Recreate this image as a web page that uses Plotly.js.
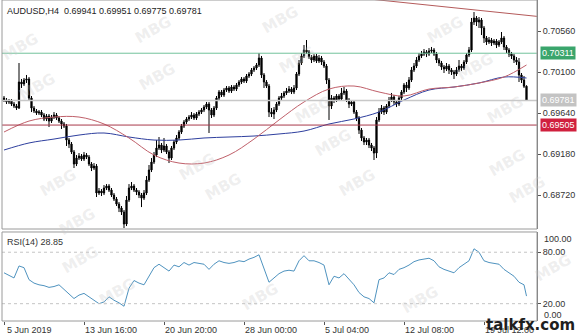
<!DOCTYPE html>
<html><head><meta charset="utf-8">
<script src="https://cdn.plot.ly/plotly-3.0.1.min.js"></script>
<style>html,body{margin:0;padding:0;background:#fff;}#chart{width:580px;height:336px;}</style>
</head><body><div id="chart"></div>
<script>
// ---- data (AUDUSD H4) ----
const close = [0.69786,0.69764,0.69775,0.69741,0.69719,0.69696,0.69988,0.69966,0.70010,0.70022,
0.69808,0.69696,0.69663,0.69640,0.69651,0.69618,0.69573,0.69606,0.69550,0.69595,
0.69618,0.69584,0.69550,0.69517,0.69494,0.69337,0.69292,0.69203,0.69068,0.69135,
0.69158,0.69124,0.69169,0.69146,0.69068,0.69023,0.69045,0.68743,0.68765,0.68743,
0.68799,0.68821,0.68776,0.68720,0.68675,0.68619,0.68574,0.68529,0.68395,0.68664,
0.68799,0.68821,0.68776,0.68754,0.68720,0.68686,0.68743,0.68888,0.69001,0.69090,
0.69169,0.69247,0.69281,0.69225,0.69270,0.69203,0.69135,0.69247,0.69315,0.69360,
0.69427,0.69494,0.69539,0.69573,0.69595,0.69618,0.69584,0.69629,0.69651,0.69674,
0.69707,0.69741,0.69674,0.69618,0.69696,0.69808,0.69876,0.69842,0.69898,0.69921,
0.69887,0.69932,0.69909,0.69954,0.69988,0.70022,0.69999,0.70055,0.70078,0.70123,
0.70145,0.70179,0.70257,0.70067,0.69988,0.69943,0.69651,0.69629,0.69674,0.69741,
0.69808,0.69831,0.69865,0.69887,0.69909,0.69876,0.69921,0.70078,0.70201,0.70280,
0.70347,0.70325,0.70268,0.70235,0.70280,0.70224,0.70257,0.70212,0.70167,0.70010,
0.69719,0.69808,0.69786,0.69831,0.69797,0.69865,0.69887,0.69786,0.69741,0.69764,
0.69651,0.69584,0.69449,0.69360,0.69315,0.69337,0.69281,0.69247,0.69191,0.69562,
0.69651,0.69696,0.69651,0.69719,0.69786,0.69820,0.69764,0.69741,0.69808,0.69876,
0.69954,0.69921,0.70010,0.70123,0.70167,0.70235,0.70280,0.70302,0.70325,0.70302,
0.70336,0.70347,0.70302,0.70235,0.70201,0.70156,0.70134,0.70167,0.70123,0.70100,
0.70078,0.70123,0.70167,0.70145,0.70212,0.70291,0.70347,0.70661,0.70706,0.70661,
0.70684,0.70594,0.70482,0.70437,0.70459,0.70426,0.70448,0.70403,0.70437,0.70482,
0.70381,0.70347,0.70302,0.70280,0.70235,0.70212,0.70067,0.70010,0.69941,0.69781];

const open = [0.69808,0.69786,0.69764,0.69775,0.69741,0.69719,0.69696,0.69988,0.69966,0.70010,
0.70022,0.69808,0.69696,0.69663,0.69640,0.69651,0.69618,0.69573,0.69606,0.69550,
0.69595,0.69618,0.69584,0.69550,0.69517,0.69494,0.69337,0.69292,0.69203,0.69068,
0.69135,0.69158,0.69124,0.69169,0.69146,0.69068,0.69023,0.69045,0.68743,0.68765,
0.68743,0.68799,0.68821,0.68776,0.68720,0.68675,0.68619,0.68574,0.68529,0.68395,
0.68664,0.68799,0.68821,0.68776,0.68754,0.68720,0.68686,0.68743,0.68888,0.69001,
0.69090,0.69169,0.69247,0.69281,0.69225,0.69270,0.69203,0.69135,0.69247,0.69315,
0.69360,0.69427,0.69494,0.69539,0.69573,0.69595,0.69618,0.69584,0.69629,0.69651,
0.69674,0.69707,0.69741,0.69674,0.69618,0.69696,0.69808,0.69876,0.69842,0.69898,
0.69921,0.69887,0.69932,0.69909,0.69954,0.69988,0.70022,0.69999,0.70055,0.70078,
0.70123,0.70145,0.70179,0.70257,0.70067,0.69988,0.69943,0.69651,0.69629,0.69674,
0.69741,0.69808,0.69831,0.69865,0.69887,0.69909,0.69876,0.69921,0.70078,0.70201,
0.70280,0.70347,0.70325,0.70268,0.70235,0.70280,0.70224,0.70257,0.70212,0.70167,
0.70010,0.69719,0.69808,0.69786,0.69831,0.69797,0.69865,0.69887,0.69786,0.69741,
0.69764,0.69651,0.69584,0.69449,0.69360,0.69315,0.69337,0.69281,0.69247,0.69191,
0.69562,0.69651,0.69696,0.69651,0.69719,0.69786,0.69820,0.69764,0.69741,0.69808,
0.69876,0.69954,0.69921,0.70010,0.70123,0.70167,0.70235,0.70280,0.70302,0.70325,
0.70302,0.70336,0.70347,0.70302,0.70235,0.70201,0.70156,0.70134,0.70167,0.70123,
0.70100,0.70078,0.70123,0.70167,0.70145,0.70212,0.70291,0.70347,0.70661,0.70706,
0.70661,0.70684,0.70594,0.70482,0.70437,0.70459,0.70426,0.70448,0.70403,0.70437,
0.70482,0.70381,0.70347,0.70302,0.70280,0.70235,0.70212,0.70067,0.70010,0.69941];

const high = [0.69831,0.69808,0.69797,0.69797,0.69764,0.69741,0.70201,0.70022,0.70033,0.70067,
0.70044,0.69831,0.69719,0.69685,0.69674,0.69674,0.69640,0.69629,0.69629,0.69618,
0.69651,0.69640,0.69606,0.69573,0.69539,0.69517,0.69360,0.69315,0.69225,0.69169,
0.69191,0.69180,0.69203,0.69191,0.69169,0.69090,0.69079,0.69068,0.68799,0.68787,
0.68832,0.68843,0.68843,0.68799,0.68743,0.68698,0.68642,0.68597,0.68552,0.68709,
0.68843,0.68866,0.68843,0.68799,0.68776,0.68743,0.68776,0.68933,0.69057,0.69135,
0.69203,0.69337,0.69371,0.69304,0.69360,0.69292,0.69225,0.69270,0.69337,0.69393,
0.69449,0.69517,0.69562,0.69595,0.69618,0.69651,0.69640,0.69651,0.69674,0.69696,
0.69730,0.69764,0.69764,0.69696,0.69719,0.69831,0.69898,0.69898,0.69921,0.69943,
0.69943,0.69954,0.69954,0.69977,0.70010,0.70044,0.70044,0.70078,0.70100,0.70145,
0.70167,0.70201,0.70313,0.70280,0.70089,0.70010,0.69966,0.69696,0.69707,0.69764,
0.69831,0.69865,0.69887,0.69921,0.69943,0.69932,0.69954,0.70100,0.70235,0.70313,
0.70403,0.70459,0.70347,0.70291,0.70302,0.70302,0.70291,0.70280,0.70235,0.70190,
0.70033,0.69842,0.69831,0.69853,0.69853,0.69921,0.69932,0.69909,0.69808,0.69786,
0.69786,0.69674,0.69606,0.69472,0.69382,0.69360,0.69360,0.69304,0.69270,0.69595,
0.69696,0.69730,0.69719,0.69741,0.69820,0.69865,0.69842,0.69786,0.69831,0.69898,
0.69977,0.69988,0.70044,0.70156,0.70201,0.70268,0.70313,0.70336,0.70358,0.70347,
0.70369,0.70381,0.70369,0.70325,0.70257,0.70224,0.70179,0.70201,0.70190,0.70145,
0.70123,0.70156,0.70235,0.70190,0.70235,0.70313,0.70381,0.70706,0.70773,0.70728,
0.70717,0.70706,0.70616,0.70504,0.70493,0.70482,0.70470,0.70470,0.70459,0.70549,
0.70504,0.70403,0.70369,0.70325,0.70302,0.70268,0.70257,0.70089,0.70055,0.69951];

const low = [0.69764,0.69741,0.69741,0.69719,0.69696,0.69674,0.69685,0.69921,0.69943,0.69977,
0.69786,0.69651,0.69640,0.69618,0.69618,0.69595,0.69550,0.69550,0.69483,0.69528,
0.69573,0.69562,0.69528,0.69461,0.69472,0.69270,0.69247,0.69180,0.69023,0.69045,
0.69113,0.69102,0.69102,0.69124,0.69045,0.68989,0.69001,0.68698,0.68720,0.68709,
0.68720,0.68776,0.68754,0.68698,0.68653,0.68597,0.68529,0.68496,0.68350,0.68372,
0.68642,0.68776,0.68754,0.68720,0.68686,0.68585,0.68664,0.68720,0.68866,0.68978,
0.69068,0.69146,0.69225,0.69191,0.69203,0.69180,0.69079,0.69113,0.69225,0.69292,
0.69337,0.69405,0.69472,0.69517,0.69550,0.69573,0.69562,0.69562,0.69606,0.69629,
0.69651,0.69685,0.69416,0.69584,0.69595,0.69674,0.69786,0.69820,0.69820,0.69876,
0.69865,0.69865,0.69887,0.69887,0.69932,0.69966,0.69977,0.69977,0.70033,0.70055,
0.70100,0.70123,0.70156,0.70033,0.69921,0.69921,0.69595,0.69595,0.69573,0.69651,
0.69719,0.69786,0.69808,0.69842,0.69865,0.69853,0.69853,0.69898,0.70055,0.70179,
0.70257,0.70302,0.70246,0.70201,0.70212,0.70201,0.70201,0.70179,0.70145,0.69966,
0.69562,0.69685,0.69752,0.69764,0.69775,0.69775,0.69842,0.69764,0.69696,0.69719,
0.69629,0.69550,0.69405,0.69326,0.69281,0.69281,0.69247,0.69214,0.69113,0.69135,
0.69539,0.69629,0.69618,0.69629,0.69696,0.69764,0.69730,0.69707,0.69719,0.69786,
0.69853,0.69876,0.69898,0.69988,0.70100,0.70145,0.70212,0.70257,0.70280,0.70268,
0.70280,0.70313,0.70280,0.70201,0.70167,0.70123,0.70089,0.70111,0.70078,0.70067,
0.70022,0.70055,0.70100,0.70111,0.70123,0.70190,0.70268,0.70325,0.70628,0.70616,
0.70594,0.70515,0.70426,0.70403,0.70414,0.70392,0.70403,0.70369,0.70381,0.70414,
0.70347,0.70313,0.70268,0.70246,0.70201,0.70179,0.69988,0.69977,0.69921,0.69775];

// moving averages read at every 10th bar
const maBars = [0,10,20,30,40,50,60,70,80,90,100,110,120,130,140,150,160,170,180,190,200,209];
const maRed  = [0.69427,0.69550,0.69595,0.69595,0.69517,0.69360,0.69169,0.69079,0.69079,0.69169,0.69348,
                0.69562,0.69764,0.69909,0.69943,0.69876,0.69831,0.69909,0.69932,0.69977,0.70044,0.70179];
const maBlue = [0.69225,0.69304,0.69348,0.69393,0.69416,0.69371,0.69337,0.69337,0.69360,0.69371,0.69382,
                0.69405,0.69438,0.69517,0.69573,0.69651,0.69786,0.69898,0.69932,0.69977,0.70044,0.70033];

// RSI(14) read at every 2nd bar, plus the last bar
const rsiBars = [0,2,4,6,8,10,12,14,16,18,20,22,24,26,28,30,32,34,36,38,40,42,44,46,48,50,52,54,56,58,
 60,62,64,66,68,70,72,74,76,78,80,82,84,86,88,90,92,94,96,98,100,102,104,106,108,110,112,114,116,118,
 120,122,124,126,128,130,132,134,136,138,140,142,144,146,148,150,152,154,156,158,160,162,164,166,168,170,172,174,176,178,
 180,182,184,186,188,190,192,194,196,198,200,202,204,206,208,209];
const rsi = [56,53,50,64,62,48,44,42,41,39, 40,42,37,31,26,30,32,28,24,20,
 22,28,24,21,17,38,47,44,42,52, 62,66,62,58,65,63,68,65,68,67,
 66,60,66,70,68,67,68,70,69,72, 74,77,60,45,50,55,58,59,58,70,
 76,70,70,68,65,42,52,50,55,48, 42,33,28,26,21,48,50,56,54,60,
 62,65,69,71,72,73,70,63,60,58, 56,62,66,70,84,80,70,68,67,66,
 60,56,52,45,42,28.85];

// levels
const levelGreen = 0.70311, levelLast = 0.69781, levelRed = 0.69505;
const trendBars = [140, 214];
const trendVals = [0.70937, 0.70722];

const dateBars = [0,32,64,96,128,160,192];
const dateLabels = ["5 Jun 2019","13 Jun 16:00","20 Jun 20:00","28 Jun 00:00","5 Jul 04:00","12 Jul 08:00","19 Jul 12:00"];
const priceTicks = [0.70560,0.70100,0.69640,0.69180,0.68720];

// ---- build ----
const bars = close.map((_, i) => i);
const F = 'Liberation Sans, Arial, sans-serif';

const traces = [
  {type:'scatter', mode:'lines', x:trendBars, y:trendVals, line:{color:'#b45a5a', width:1}, xaxis:'x', yaxis:'y', hoverinfo:'skip'},
  {type:'scatter', mode:'lines', x:maBars, y:maBlue, line:{color:'#2e3f9e', width:1, shape:'spline'}, xaxis:'x', yaxis:'y'},
  {type:'scatter', mode:'lines', x:maBars, y:maRed, line:{color:'#c0606a', width:1, shape:'spline'}, xaxis:'x', yaxis:'y'},
  {type:'candlestick', x:bars, open:open, high:high, low:low, close:close, xaxis:'x', yaxis:'y',
   increasing:{line:{color:'#000', width:1}, fillcolor:'#000'},
   decreasing:{line:{color:'#000', width:1}, fillcolor:'#000'}, whiskerwidth:0},
  {type:'scatter', mode:'lines', x:rsiBars, y:rsi, line:{color:'#4f93bf', width:1}, xaxis:'x', yaxis:'y2'}
];

const mainBottom = 0.2866, rsiTop = 0.2773;
const shapes = [
  {type:'line', xref:'paper', x0:0, x1:1, yref:'y', y0:levelGreen, y1:levelGreen, line:{color:'#72c39c', width:1}},
  {type:'line', xref:'paper', x0:0, x1:1, yref:'y', y0:levelLast, y1:levelLast, line:{color:'#c8c8c8', width:1.5}},
  {type:'line', xref:'paper', x0:0, x1:1, yref:'y', y0:levelRed, y1:levelRed, line:{color:'#a8384a', width:1}},
  {type:'line', xref:'paper', x0:0, x1:1, yref:'y2', y0:80, y1:80, line:{color:'#c4c4c4', width:1, dash:'dot'}},
  {type:'line', xref:'paper', x0:0, x1:1, yref:'y2', y0:20, y1:20, line:{color:'#c4c4c4', width:1, dash:'dot'}},
  {type:'rect', xref:'paper', yref:'paper', x0:0, x1:1, y0:mainBottom, y1:1, line:{color:'#9a9a9a', width:1}},
  {type:'rect', xref:'paper', yref:'paper', x0:0, x1:1, y0:0, y1:rsiTop, line:{color:'#9a9a9a', width:1}}
];

// faint "MBG" watermark stamps (page decoration, pixel spots)
const stampSpots = [[20,47],[37,87],[58,183],[77,222],[153,30],[157,77],[197,167],[223,187],[280,20],[297,60],
  [313,110],[333,143],[357,183],[445,30],[475,67],[505,110],[507,163],[527,190],[80,260],[117,292],[260,297],[420,300],[553,268]];

const annotations = stampSpots.map(([px, py]) => ({
  xref:'paper', yref:'paper', x:(px-2)/535, y:(321-py)/321, xanchor:'center', yanchor:'middle', showarrow:false,
  text:'<b>MBG</b>', textangle:-30, font:{family:'DejaVu Sans, sans-serif', size:15, color:'rgba(200,200,200,0.3)'}
}));

annotations.push(
  {xref:'paper', yref:'paper', x:0, y:1, xanchor:'left', yanchor:'top', xshift:3, yshift:-4, showarrow:false,
   text:'AUDUSD,H4  0.69941 0.69951 0.69775 0.69781', font:{family:F, size:9, color:'#222'}},
  {xref:'paper', yref:'paper', x:0, y:rsiTop, xanchor:'left', yanchor:'top', xshift:3, yshift:-3, showarrow:false,
   text:'RSI(14) 28.85', font:{family:F, size:9, color:'#333'}},
  {xref:'paper', yref:'y', x:1, y:levelGreen, xanchor:'left', yanchor:'middle', xshift:3, showarrow:false,
   text:'0.70311', bgcolor:'#3aa56c', borderpad:1, font:{family:F, size:9, color:'#fff'}},
  {xref:'paper', yref:'y', x:1, y:levelLast, xanchor:'left', yanchor:'middle', xshift:3, showarrow:false,
   text:'0.69781', bgcolor:'#c3c3c3', borderpad:1, font:{family:F, size:9, color:'#fff'}},
  {xref:'paper', yref:'y', x:1, y:levelRed, xanchor:'left', yanchor:'middle', xshift:3, showarrow:false,
   text:'0.69505', bgcolor:'#d0203e', borderpad:1, font:{family:F, size:9, color:'#fff'}},
  {xref:'paper', yref:'y2', x:1, y:100, xanchor:'left', yanchor:'middle', xshift:5, yshift:-4, showarrow:false,
   text:'100.00', font:{family:F, size:9, color:'#333'}},
  {xref:'paper', yref:'y2', x:1, y:0, xanchor:'left', yanchor:'middle', xshift:5, yshift:6, showarrow:false,
   text:'0.00', font:{family:F, size:9, color:'#333'}}
);
dateBars.forEach((b, k) => annotations.push({
  xref:'x', yref:'paper', x:b, y:0, xanchor:'left', yanchor:'top', yshift:-2, xshift: k===0 ? 1 : -1, showarrow:false,
  text:dateLabels[k], font:{family:F, size:9, color:'#333'}
}));
annotations.push({xref:'paper', yref:'paper', x:1.0748, y:-0.047, xanchor:'right', yanchor:'bottom', showarrow:false,
   text:'<b>talkfx.com</b>', font:{family:'DejaVu Sans, sans-serif', size:15, color:'#1e1e1e'}});

const layout = {
  width:580, height:336, margin:{l:2, r:43, t:0, b:15},
  paper_bgcolor:'#fff', plot_bgcolor:'#fff', showlegend:false, hovermode:false,
  xaxis:{range:[-0.8, 213.2], anchor:'y2', showgrid:false, zeroline:false, showline:false,
         tickmode:'array', tickvals:dateBars, showticklabels:false, ticks:'outside', ticklen:3, tickcolor:'#555',
         rangeslider:{visible:false}},
  yaxis:{domain:[mainBottom, 1], range:[0.68339, 0.70908], side:'right', anchor:'x', showgrid:false, zeroline:false,
         showline:true, linecolor:'#777', tickmode:'array', tickvals:priceTicks, tickformat:'.5f',
         ticks:'outside', ticklen:3, tickcolor:'#555', tickfont:{family:F, size:9, color:'#333'}},
  yaxis2:{domain:[0, rsiTop], range:[-0.2, 103.6], side:'right', anchor:'x', showgrid:false, zeroline:false,
          showline:true, linecolor:'#777', tickmode:'array', tickvals:[80,20], ticktext:['80.00','20.00'],
          ticks:'outside', ticklen:3, tickcolor:'#555', tickfont:{family:F, size:9, color:'#333'}},
  shapes:shapes, annotations:annotations
};
Plotly.newPlot('chart', traces, layout, {staticPlot:true, displayModeBar:false});
</script></body></html>
